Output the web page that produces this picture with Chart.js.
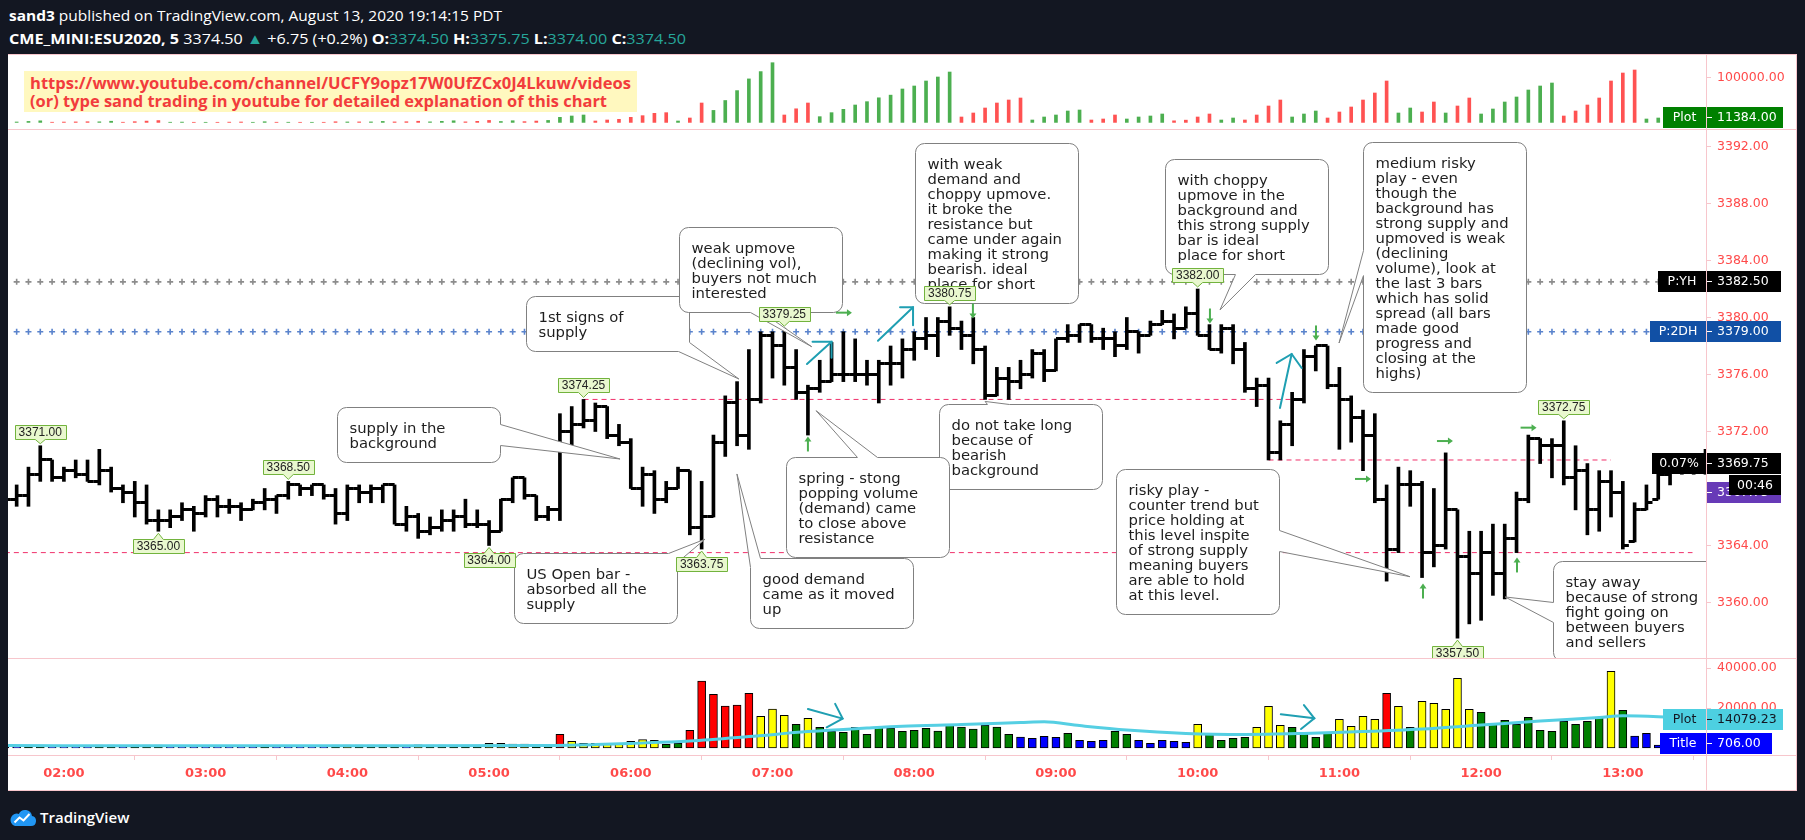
<!DOCTYPE html>
<html><head><meta charset="utf-8">
<script src="https://cdn.jsdelivr.net/npm/chart.js@4.4.1/dist/chart.umd.min.js"></script>
<style>
html,body{margin:0;padding:0}
body{width:1805px;height:840px;background:#131722;position:relative;overflow:hidden}
.a{position:absolute}
.hd{color:#fff;font-family:"Open Sans",sans-serif;white-space:nowrap;transform-origin:0 50%;font-size:15px;line-height:21px}
.t{color:#26a69a}
.ln{position:absolute;background:#f7c6cc;z-index:5}
#yt{left:24px;top:71px;width:613px;height:41px;background:#fff8bf;z-index:4}
.yt{position:absolute;left:6px;color:#f23c3c;font-family:"Open Sans",sans-serif;font-weight:700;white-space:nowrap;transform-origin:0 50%;font-size:16px;line-height:19px}
#ft{left:40px;top:806px;color:#fff;font-family:"Open Sans",sans-serif;font-weight:600;font-size:15px;line-height:22px}
</style></head><body>
<div class="a hd" id="h1" style="left:9px;top:5px"><b>sand3</b> published on TradingView.com, August 13, 2020 19:14:15 PDT</div>
<div class="a hd" id="h2" style="left:9px;top:28px"><b>CME_MINI:ESU2020, 5</b> 3374.50 <span class="t">▲</span> +6.75 (+0.2%) <b>O:</b><span class="t">3374.50</span> <b>H:</b><span class="t">3375.75</span> <b>L:</b><span class="t">3374.00</span> <b>C:</b><span class="t">3374.50</span></div>
<div class="a" style="left:8px;top:54px;width:1789px;height:736px;background:#fff"></div>
<canvas id="cTop" class="a" width="1789" height="74" style="left:8px;top:55px"></canvas>
<canvas id="cMain" class="a" width="1789" height="528" style="left:8px;top:130px"></canvas>
<canvas id="cVol" class="a" width="1789" height="131" style="left:8px;top:659px"></canvas>
<div id="yt" class="a"><div class="yt" id="yt1" style="top:3px">https://www.youtube.com/channel/UCFY9opz17W0UfZCx0J4Lkuw/videos</div><div class="yt" id="yt2" style="top:21px">(or) type sand trading in youtube for detailed explanation of this chart</div></div>
<div class="ln" style="left:8px;top:54px;width:1789px;height:1px"></div>
<div class="ln" style="left:8px;top:129px;width:1789px;height:1px"></div>
<div class="ln" style="left:8px;top:658px;width:1789px;height:1px"></div>
<div class="ln" style="left:8px;top:755px;width:1789px;height:1px"></div>
<div class="ln" style="left:8px;top:790px;width:1789px;height:1px"></div>
<div class="ln" style="left:1706px;top:54px;width:1px;height:737px"></div>
<div class="ln" style="left:1796px;top:54px;width:1px;height:737px"></div>
<svg class="a" style="left:9px;top:808px" width="28" height="19" viewBox="0 0 28 19"><path d="M6 18h16a5 5 0 0 0 1-9.9a7 7 0 0 0-13.2-2.2A5.6 5.6 0 0 0 6 18z" fill="#2196f3"/><path d="M5.5 14.5l5-5 4 3 6-6.5" stroke="#fff" stroke-width="2" fill="none"/></svg>
<div class="a" id="ft">TradingView</div>
<script>
// ---------------- DATA ----------------
const startIdx = -5; // first bar = 01:35 (index 0 = 02:00, 5-minute bars)
const opens = [3367.25,3367.25,3367.5,3369.0,3370.0,3368.75,3369.25,3369.0,3368.5,3369.25,
3368.0,3367.75,3367.0,3365.75,3365.75,3366.0,3366.5,3366.25,3367.25,3366.75,
3366.75,3366.5,3367.0,3367.25,3367.5,3368.25,3368.0,3368.25,3367.5,3366.25,
3368.0,3367.75,3368.0,3368.25,3365.5,3366.0,3365.0,3365.25,3365.75,3366.0,
3365.5,3365.5,3365.0,3367.25,3368.75,3367.5,3366.0,3366.5,3372.0,3372.5,
3372.75,3373.75,3371.75,3371.25,3368.0,3369.0,3367.25,3368.0,3369.25,3365.25,
3366.0,3371.25,3374.0,3371.75,3374.25,3378.75,3378.0,3376.5,3374.75,3375.0,
3375.5,3376.0,3376.0,3376.0,3376.0,3376.75,3376.75,3377.75,3378.5,3378.75,
3379.75,3379.25,3378.75,3377.75,3374.5,3375.75,3375.5,3376.0,3377.5,3376.25,
3378.5,3378.75,3379.5,3378.5,3378.5,3378.0,3379.0,3378.75,3379.5,3379.75,
3379.25,3380.25,3378.75,3377.75,3379.25,3377.75,3375.0,3375.25,3370.5,3372.5,
3374.25,3377.25,3378.0,3375.25,3374.25,3373.0,3371.75,3367.25,3363.75,3368.25,
3368.25,3363.5,3364.0,3366.5,3363.25,3362.0,3363.5,3362.0,3364.5,3367.25,
3371.5,3371.0,3371.0,3368.75,3369.25,3366.5,3368.5,3367.75,3364.25,3366.5,
3367.25,3369.0,3369.25,3369.25,3369.5];
const highs = [3367.75,3368.25,3369.5,3371.0,3370.0,3369.5,3370.0,3370.0,3370.75,3369.5,
3368.25,3368.5,3368.25,3366.5,3366.5,3367.0,3366.75,3367.5,3367.5,3367.25,
3367.0,3367.25,3368.0,3367.5,3368.5,3368.25,3368.25,3368.25,3368.0,3368.25,
3368.25,3368.25,3368.25,3368.25,3366.75,3366.25,3366.0,3366.5,3366.5,3367.25,
3366.5,3365.75,3367.25,3368.75,3368.75,3367.5,3366.75,3373.25,3373.75,3374.25,
3374.0,3373.75,3372.5,3371.5,3369.5,3369.25,3368.5,3369.5,3369.25,3368.5,
3371.75,3374.5,3375.5,3377.75,3379.0,3379.0,3379.25,3377.75,3375.25,3377.0,
3378.25,3379.0,3378.5,3377.0,3377.0,3378.0,3378.5,3379.0,3380.0,3380.0,
3380.75,3379.75,3380.0,3378.0,3376.5,3376.5,3377.0,3377.75,3377.75,3378.5,
3379.5,3379.5,3379.5,3379.25,3379.0,3380.0,3379.0,3379.75,3380.5,3380.25,
3380.75,3382.0,3379.5,3379.5,3379.5,3378.25,3375.75,3375.75,3372.75,3374.75,
3377.75,3378.0,3378.0,3376.5,3374.5,3373.5,3373.25,3368.25,3369.5,3369.25,
3368.5,3368.0,3370.5,3366.5,3365.0,3365.0,3365.5,3365.5,3367.75,3371.75,
3371.5,3371.5,3372.75,3371.0,3369.75,3369.25,3369.25,3368.5,3367.0,3368.25,
3369.0,3369.5,3369.5,3369.5,3370.75];
const lows = [3366.75,3366.75,3366.75,3368.5,3368.5,3368.5,3368.75,3368.5,3368.25,3367.75,
3367.0,3366.0,3365.5,3365.0,3365.25,3365.75,3365.0,3366.0,3366.0,3366.25,
3365.75,3366.5,3366.5,3366.25,3367.25,3367.5,3367.5,3367.25,3365.5,3365.75,
3367.0,3367.0,3367.0,3365.5,3365.0,3364.5,3364.75,3365.0,3365.0,3365.25,
3365.25,3364.0,3365.0,3367.0,3367.25,3365.75,3365.75,3365.75,3371.0,3372.25,
3372.0,3371.5,3371.0,3368.0,3366.75,3366.25,3367.0,3368.0,3364.75,3363.75,
3366.0,3370.25,3371.0,3370.75,3374.0,3375.75,3375.25,3374.25,3371.75,3374.75,
3375.5,3375.5,3375.5,3375.25,3374.0,3375.25,3375.75,3377.0,3377.75,3377.25,
3378.75,3377.75,3376.75,3374.25,3374.5,3374.25,3375.0,3375.75,3375.5,3376.25,
3378.25,3378.25,3378.25,3377.75,3377.25,3377.75,3377.5,3378.75,3379.5,3378.5,
3379.25,3378.75,3377.75,3377.5,3376.75,3374.75,3373.75,3370.0,3370.0,3371.0,
3374.0,3376.25,3375.0,3370.75,3371.25,3369.25,3367.0,3361.5,3363.5,3366.75,
3361.75,3362.5,3363.75,3357.5,3358.5,3358.75,3360.5,3360.25,3363.5,3367.0,
3369.75,3368.75,3368.25,3366.5,3364.75,3365.0,3366.0,3363.75,3364.25,3366.5,
3367.25,3368.25,3369.0,3369.0,3369.0];
const closes = [3367.25,3367.5,3369.0,3370.0,3368.75,3369.25,3369.0,3368.5,3369.25,3368.0,
3367.75,3367.0,3365.75,3365.75,3366.0,3366.5,3366.25,3367.25,3366.75,3366.75,
3366.5,3367.0,3367.25,3367.5,3368.25,3368.0,3368.25,3367.5,3366.25,3368.0,
3367.75,3368.0,3368.25,3365.5,3366.0,3365.0,3365.25,3365.75,3366.0,3365.5,
3365.5,3365.0,3367.25,3368.75,3367.5,3366.0,3366.5,3372.0,3372.5,3372.75,
3373.75,3371.75,3371.25,3368.0,3369.0,3367.25,3368.0,3369.25,3365.25,3366.0,
3371.25,3374.0,3371.75,3374.25,3378.75,3378.0,3376.5,3374.75,3375.0,3375.5,
3376.0,3376.0,3376.0,3376.0,3376.75,3376.75,3377.75,3378.5,3378.75,3379.75,
3379.25,3378.75,3377.75,3374.5,3375.75,3375.5,3376.0,3377.5,3376.25,3378.5,
3378.75,3379.5,3378.5,3378.5,3378.0,3379.0,3378.75,3379.5,3379.75,3379.25,
3380.25,3378.75,3377.75,3379.25,3377.75,3375.0,3375.25,3370.5,3372.5,3374.25,
3377.25,3378.0,3375.25,3374.25,3373.0,3371.75,3367.25,3363.75,3368.25,3368.25,
3363.5,3364.0,3366.5,3363.25,3362.0,3363.5,3362.0,3364.5,3367.25,3371.5,
3371.0,3371.0,3368.75,3369.25,3366.5,3368.5,3367.75,3364.0,3366.5,3367.0,
3369.0,3369.25,3369.25,3369.5,3369.75];
const volumes = [900,900,1500,1500,900,900,900,900,1500,1500,
900,1500,1500,1500,900,900,900,900,900,900,
900,900,1500,900,900,900,900,900,1500,1500,
1500,1500,1500,1500,900,1600,1500,1500,1500,1500,
1500,2300,2300,1900,1900,1500,1500,6833,3333,2333,
2333,1833,2333,3333,4167,3833,1833,2333,8833,33500,
26833,21000,21500,27333,15833,19500,16333,11833,14833,10333,
8333,7833,10333,6833,10333,10000,8333,8833,9833,8500,
11333,10500,9500,11333,10500,6833,5500,4833,5833,5333,
7333,3833,3333,3833,8333,6833,3833,2333,3833,3333,
2833,11833,6833,3833,4833,5333,10333,20833,11333,10333,
7833,5333,7833,14333,10833,15833,14333,27333,20833,10333,
23333,22333,19333,34833,19333,17833,12333,13833,11833,15333,
8833,8333,13333,11833,13333,15333,38333,18833,6000,7333,
1500,1200,1000,900,706];
const volColors = ['b','b','g','g','b','b','b','b','g','g',
'b','g','g','g','b','b','b','b','b','b',
'b','b','g','b','b','b','b','b','g','y',
'g','g','g','g','b','y','g','g','g','g',
'g','y','y','y','y','g','g','r','y','y',
'y','y','y','y','y','y','g','g','r','r',
'r','r','r','r','y','y','y','g','y','g',
'g','g','g','g','g','g','g','g','g','g',
'g','g','g','g','g','g','b','b','b','b',
'g','b','b','b','g','g','b','b','b','b',
'b','y','g','g','g','g','y','y','y','g',
'g','g','g','y','y','y','y','r','y','g',
'y','y','y','y','y','g','g','g','g','g',
'g','g','g','g','g','g','y','g','b','b',
'b','b','b','b','b'];
const weisWave = [600,900,2200,3500,400,800,1100,1500,1300,2600,
400,1600,2900,4100,400,700,300,300,300,600,
900,300,1500,400,400,300,300,300,1400,1000,
1100,1100,2200,1100,1500,2600,1200,2400,3600,1200,
2400,4400,2000,3700,1700,3000,4400,11280,14250,16480,
3100,5345,6800,11280,14990,20190,21680,3118,9800,43200,
26700,48770,70800,96860,113130,132940,16480,30290,43200,12770,
21680,29100,38750,46170,54780,60720,74380,81060,92200,101100,
112200,12030,20930,32070,43200,49880,54340,5345,12030,16480,
25390,27610,5345,7570,16480,7570,12030,14250,18710,3500,
5000,12030,18710,5345,9800,5345,16480,36520,49880,12030,
18710,25390,9800,23160,34300,49880,65470,92200,20930,32070,
23160,45430,20930,36520,54340,18710,29840,45430,56570,72150,
81060,87740,14250,25390,38750,54340,92200,110000,116700,7570,
9800,10300,10700,11000,11384];
const weisColors = ['g','g','g','g','r','r','r','r','g','g',
'r','r','r','r','g','g','r','g','r','r',
'r','g','g','r','g','r','g','r','r','g',
'r','g','g','r','r','r','g','g','g','r',
'r','r','g','g','r','r','g','g','g','g',
'r','r','r','r','r','r','r','g','r','r',
'g','g','g','g','g','g','r','r','r','g',
'g','g','g','g','g','g','g','g','g','g',
'g','r','r','r','r','r','r','g','g','g',
'g','g','r','r','r','g','g','g','g','r',
'r','r','r','g','g','r','r','r','r','g',
'g','g','r','r','r','r','r','r','g','g',
'r','r','g','r','r','g','g','g','g','g',
'g','g','r','r','r','r','r','r','r','g',
'g','g','g','g','g'];
const maIdx  = [-5,10,25,41,45,48,53,58,63,66,68,71,76,81,83,86,90,95,100,105,110,115,120,125,130,132,135,139];
const maVals = [1200,1150,1150,1250,1700,2300,3500,5700,8200,9300,10000,10900,11700,12700,13100,11200,9000,7300,6800,7300,8200,9500,11500,13500,15200,16100,15600,14079.23];
const priceTicks = [3360,3364,3368,3372,3376,3380,3384,3388,3392];
const volTicks = [20000,40000];
const weisTicks = [100000];
const timeTickIdx = [0,12,24,36,48,60,72,84,96,108,120,132];
const timeLabels = ['02:00','03:00','04:00','05:00','06:00','07:00','08:00','09:00','10:00','11:00','12:00','13:00'];
const levelYH = 3382.5, level2DH = 3379.0;
const dashLevels = [3374.25, 3370.0, 3363.5];
const dashFromIdx = [44, 102, -5];
const dashToIdx = [104.5, 131, 137.9];
const pivotIdx  = [-2, 8, 19, 36, 44, 54, 61, 75, 96, 118, 127];
const pivotType = ['H','L','H','L','H','L','H','H','H','L','H'];
const purpleVal = 3367.75, countdown = '00:46', pctChange = '0.07%';
const signalDir   = ['R','U','D','D','D','R','U','R','U','R'];
const signalIdx   = [66.05,63.0,76.97,97.04,106.02,110.0,115.08,116.94,123.04,124.02];
const signalPrice = [3380.34,3371.09,3380.49,3380.14,3378.95,3368.67,3360.77,3371.33,3362.60,3372.27];
const callouts = [
 {i:23.12,p:3373.72,lines:['supply in the','background'],tail:[[163,17],[163,38]],tip:[47.09,3370.07]},
 {i:39.12,p:3381.51,lines:['1st signs of','supply'],tail:[[152,55],[163,46]],tip:[57.16,3375.68]},
 {i:52.08,p:3386.37,lines:['weak upmove','(declining vol),','buyers not much','interested'],tail:[[71,85],[83,85]],tip:[63.32,3377.95]},
 {i:72.07,p:3392.27,lines:['with weak','demand and','choppy upmove.','it broke the','resistance but','came under again','making it strong','bearish. ideal','place for short'],tail:null},
 {i:93.24,p:3391.12,lines:['with choppy','upmove in the','background and','this strong supply','bar is ideal','place for short'],tail:[[70,115],[90,115]],tip:[97.89,3380.53]},
 {i:110.0,p:3392.34,lines:['medium risky','play - even','though the','background has','strong supply and','upmoved is weak','(declining','volume), look at','the last 3 bars','which has solid','spread (all bars','made good','progress and','closing at the','highs)'],tail:[[0,108],[0,133]],tip:[107.97,3378.21]},
 {i:74.10,p:3373.91,lines:['do not take long','because of','bearish','background'],tail:[[48,0],[70,0]],tip:[78.0,3374.11]},
 {i:61.14,p:3370.19,lines:['spring - stong','popping volume','(demand) came','to close above','resistance'],tail:[[71,0],[91,0]],tip:[63.69,3373.46]},
 {i:58.09,p:3363.10,lines:['good demand','came as it moved','up'],tail:[[0,9],[10,0]],tip:[56.99,3369.02]},
 {i:38.11,p:3363.45,lines:['US Open bar -','absorbed all the','supply'],tail:[[154,0],[163,9]],tip:[54.28,3364.44]},
 {i:89.09,p:3369.35,lines:['risky play -','counter trend but','price holding at','this level inspite','of strong supply','meaning buyers','are able to hold','at this level.'],tail:[[163,61],[163,82]],tip:[113.98,3361.81]},
 {i:126.09,p:3362.91,lines:['stay away','because of strong','fight going on','between buyers','and sellers'],tail:[[0,41],[0,61]],tip:[122.03,3360.39]}
];
const tealMain = [
 {from:[62.92,3376.74],to:[65.0,3378.30],head:[[-19,0],[0,16]]},
 {from:[68.93,3378.37],to:[71.9,3380.72],head:[[-13,0],[0,18]]},
 {from:[102.97,3373.65],to:[103.96,3377.44],head:[[-15,9],[10,14]]}
];
const tealVol = [
 {from:[63.0,19500],to:[65.94,14700],head:[[-7.5,-14.7],[-16,8.7]]},
 {from:[103.04,16833],to:[105.88,14833],head:[[-10.4,-13.3],[-13.3,10.7]]}
];

// ---------------- LAYOUT / STYLE ----------------
const X_MIN = -4.733, X_MAX = 139.043;
const PINK = '#f7c6cc', AXIS_RED = '#ff4a4a';
const VC = {b:'#0000ff', g:'#008000', y:'#ffff00', r:'#ff0000'};
const WC = {g:'#4caf50', r:'#ff5252'};
Chart.defaults.font.family = 'DejaVu Sans';
const idxOf = k => k + startIdx;

function noPad(s){ s.paddingTop = 0; s.paddingBottom = 0; s.paddingLeft = 0; s.paddingRight = 0; }
function xAxis(display){
  return {type:'linear', min:X_MIN, max:X_MAX, offset:false, display:display, grid:{display:false}};
}
function yAxis(min, max, ticks){
  return {type:'linear', position:'right', min:min, max:max,
    afterFit(s){ s.width = 91; noPad(s); },
    afterBuildTicks(s){ s.ticks = ticks.map(v => ({value:v})); },
    ticks:{color:AXIS_RED, font:{family:'DejaVu Sans', size:12.5}, padding:6, callback:v => Number(v).toFixed(2)},
    grid:{drawOnChartArea:false, color:PINK, tickLength:5},
    border:{color:PINK}};
}
const baseOpts = {responsive:false, animation:false, devicePixelRatio:1, layout:{padding:0, autoPadding:false},
  plugins:{legend:{display:false}, tooltip:{enabled:false}}};

function rr(ctx,x,y,w,h,r){
  ctx.beginPath();
  ctx.moveTo(x+r,y); ctx.lineTo(x+w-r,y); ctx.arcTo(x+w,y,x+w,y+r,r);
  ctx.lineTo(x+w,y+h-r); ctx.arcTo(x+w,y+h,x+w-r,y+h,r);
  ctx.lineTo(x+r,y+h); ctx.arcTo(x,y+h,x,y+h-r,r);
  ctx.lineTo(x,y+r); ctx.arcTo(x,y,x+r,y,r); ctx.closePath();
}
function axLabel(ctx, axisX, y, name, val, bg, fg, nameW, valW){
  const h = 21, top = Math.round(y - h/2);
  ctx.fillStyle = bg;
  if (name) ctx.fillRect(axisX - nameW, top, nameW, h);
  ctx.fillRect(axisX, top, valW, h);
  ctx.fillStyle = fg; ctx.font = '12.5px "DejaVu Sans"'; ctx.textBaseline = 'middle';
  if (name){ ctx.textAlign = 'center'; ctx.fillText(name, axisX - nameW/2, top + h/2 + 0.5); }
  ctx.textAlign = 'left'; ctx.fillText(val, axisX + 11, top + h/2 + 0.5);
  ctx.fillRect(axisX + 1, top + 10, 5, 1);
}
function drawTeal(ctx, xs, ys, a){
  const x0 = xs.getPixelForValue(a.from[0]), y0 = ys.getPixelForValue(a.from[1]);
  const x1 = xs.getPixelForValue(a.to[0]), y1 = ys.getPixelForValue(a.to[1]);
  ctx.strokeStyle = '#1f9fb2'; ctx.lineWidth = 2; ctx.lineCap = 'round';
  ctx.beginPath(); ctx.moveTo(x0,y0); ctx.lineTo(x1,y1); ctx.stroke();
  ctx.beginPath(); ctx.moveTo(x1+a.head[0][0], y1+a.head[0][1]); ctx.lineTo(x1,y1); ctx.lineTo(x1+a.head[1][0], y1+a.head[1][1]); ctx.stroke();
  ctx.lineCap = 'butt';
}
function drawCallout(ctx, xs, ys, c){
  const L = Math.round(xs.getPixelForValue(c.i)) + 0.5;
  const T = Math.round(ys.getPixelForValue(c.p)) + 0.5;
  const W = 163, H = 25 + 15*c.lines.length;
  ctx.lineWidth = 1; ctx.strokeStyle = '#808080'; ctx.fillStyle = '#fff';
  rr(ctx, L, T, W, H, 9); ctx.fill(); ctx.stroke();
  if (c.tail){
    const b1 = [L + c.tail[0][0], T + c.tail[0][1]], b2 = [L + c.tail[1][0], T + c.tail[1][1]];
    const tp = [xs.getPixelForValue(c.tip[0]), ys.getPixelForValue(c.tip[1])];
    ctx.beginPath(); ctx.moveTo(b1[0],b1[1]); ctx.lineTo(tp[0],tp[1]); ctx.lineTo(b2[0],b2[1]); ctx.closePath(); ctx.fill();
    ctx.strokeStyle = '#fff'; ctx.lineWidth = 2.5;
    ctx.beginPath(); ctx.moveTo(b1[0],b1[1]); ctx.lineTo(b2[0],b2[1]); ctx.stroke();
    ctx.strokeStyle = '#808080'; ctx.lineWidth = 1;
    ctx.beginPath(); ctx.moveTo(b1[0],b1[1]); ctx.lineTo(tp[0],tp[1]); ctx.lineTo(b2[0],b2[1]); ctx.stroke();
  }
  ctx.fillStyle = '#1e1e1e'; ctx.font = '14.8px "DejaVu Sans"'; ctx.textAlign = 'left'; ctx.textBaseline = 'alphabetic';
  c.lines.forEach((s,k) => ctx.fillText(s, L + 12, T + 25 + 15*k));
}
function pivotLabel(ctx, x, yBar, text, isHigh){
  ctx.font = '12px "Liberation Sans"';
  const w = Math.round(ctx.measureText(text).width + 8), h = 14;
  const bx = Math.round(x - w/2) + 0.5;
  let by;
  ctx.beginPath();
  if (isHigh){
    by = Math.round(yBar - 7 - h) + 0.5; const bb = by + h;
    ctx.moveTo(bx,by); ctx.lineTo(bx+w,by); ctx.lineTo(bx+w,bb); ctx.lineTo(x+5,bb); ctx.lineTo(x,yBar-2); ctx.lineTo(x-5,bb); ctx.lineTo(bx,bb); ctx.closePath();
  } else {
    by = Math.round(yBar + 8) + 0.5; const bb = by + h;
    ctx.moveTo(bx,by); ctx.lineTo(x-5,by); ctx.lineTo(x,yBar+2); ctx.lineTo(x+5,by); ctx.lineTo(bx+w,by); ctx.lineTo(bx+w,bb); ctx.lineTo(bx,bb); ctx.closePath();
  }
  ctx.fillStyle = '#e9f8cf'; ctx.fill(); ctx.strokeStyle = '#72b33d'; ctx.lineWidth = 1; ctx.stroke();
  ctx.fillStyle = '#222'; ctx.textAlign = 'center'; ctx.textBaseline = 'middle';
  ctx.fillText(text, x, by + h/2 + 0.5);
}
function signalArrow(ctx, x, y, dir){
  ctx.strokeStyle = '#4caf50'; ctx.fillStyle = '#4caf50'; ctx.lineWidth = 2;
  ctx.beginPath();
  if (dir === 'R'){ ctx.moveTo(x-8,y); ctx.lineTo(x+4,y); } else if (dir === 'U'){ ctx.moveTo(x,y+7); ctx.lineTo(x,y-4); } else { ctx.moveTo(x,y-7); ctx.lineTo(x,y+4); }
  ctx.stroke();
  ctx.beginPath();
  if (dir === 'R'){ ctx.moveTo(x+8,y); ctx.lineTo(x+3,y-3.5); ctx.lineTo(x+3,y+3.5); }
  else if (dir === 'U'){ ctx.moveTo(x,y-8); ctx.lineTo(x-3.5,y-3); ctx.lineTo(x+3.5,y-3); }
  else { ctx.moveTo(x,y+8); ctx.lineTo(x-3.5,y+3); ctx.lineTo(x+3.5,y+3); }
  ctx.closePath(); ctx.fill();
}
function tickImg(left){
  const c = document.createElement('canvas'); c.width = 14; c.height = 3;
  const g = c.getContext('2d'); g.fillStyle = '#000';
  if (left) g.fillRect(1,0,6,3); else g.fillRect(7,0,6,3);
  return c;
}

// ---------------- MAIN PRICE PANE ----------------
const mainDecor = {
  id:'mainDecor',
  afterDatasetsDraw(chart){
    const {ctx, chartArea:ca, scales:{x:xs, y:ys}} = chart;
    ctx.save();
    ctx.beginPath(); ctx.rect(ca.left, ca.top, ca.right-ca.left, ca.bottom-ca.top); ctx.clip();
    callouts.forEach(c => drawCallout(ctx, xs, ys, c));
    pivotIdx.forEach((bi, k) => {
      const j = bi - startIdx; const isH = pivotType[k] === 'H';
      const v = isH ? highs[j] : lows[j];
      pivotLabel(ctx, xs.getPixelForValue(bi), ys.getPixelForValue(v), v.toFixed(2), isH);
    });
    signalDir.forEach((d,k) => signalArrow(ctx, xs.getPixelForValue(signalIdx[k]), ys.getPixelForValue(signalPrice[k]), d));
    tealMain.forEach(a => drawTeal(ctx, xs, ys, a));
    ctx.restore();
  },
  afterDraw(chart){
    const {ctx, chartArea:ca, scales:{y:ys}} = chart;
    const ax = ca.right;
    ctx.save();
    axLabel(ctx, ax, ys.getPixelForValue(levelYH), 'P:YH', levelYH.toFixed(2), '#000', '#fff', 48, 75);
    axLabel(ctx, ax, ys.getPixelForValue(level2DH), 'P:2DH', level2DH.toFixed(2), '#1150a5', '#fff', 56, 75);
    axLabel(ctx, ax, ys.getPixelForValue(purpleVal), null, purpleVal.toFixed(2), '#673ab7', '#fff', 0, 75);
    const lastY = ys.getPixelForValue(closes[closes.length-1]);
    axLabel(ctx, ax, lastY, pctChange, closes[closes.length-1].toFixed(2), '#000', '#fff', 54, 75);
    ctx.fillStyle = '#000'; ctx.fillRect(ax + 23, Math.round(lastY + 11), 52, 20);
    ctx.fillStyle = '#fff'; ctx.font = '12.5px "DejaVu Sans"'; ctx.textAlign = 'center'; ctx.textBaseline = 'middle';
    ctx.fillText(countdown, ax + 49, Math.round(lastY + 11) + 10.5);
    ctx.restore();
  }
};
const crossPts = lvl => { const a = []; for (let k = 0; k < opens.length; k++) a.push({x:idxOf(k), y:lvl}); return a; };
const mainDatasets = [
  {type:'bar', data: highs.map((h,k) => ({x:idxOf(k), y:[lows[k], h]})), backgroundColor:'#000', barThickness:3, grouped:false, order:1},
  {type:'scatter', data: opens.map((o,k) => ({x:idxOf(k), y:o})), pointStyle: tickImg(true), pointRadius:7, order:0},
  {type:'scatter', data: closes.map((c,k) => ({x:idxOf(k), y:c})), pointStyle: tickImg(false), pointRadius:7, order:0},
  {type:'scatter', data: crossPts(levelYH), pointStyle:'cross', pointRadius:3, pointBorderColor:'#8c8c8c', pointBackgroundColor:'#8c8c8c', pointBorderWidth:1.6, order:6},
  {type:'scatter', data: crossPts(level2DH), pointStyle:'cross', pointRadius:3, pointBorderColor:'#5a83cc', pointBackgroundColor:'#5a83cc', pointBorderWidth:1.6, order:6}
];
dashLevels.forEach((lv,k) => mainDatasets.push({type:'line', data:[{x:dashFromIdx[k], y:lv},{x:dashToIdx[k], y:lv}], borderColor:'#f0306a', borderWidth:1, borderDash:[5,4], pointRadius:0, order:5}));
new Chart(document.getElementById('cMain'), {
  type:'bar',
  data:{datasets: mainDatasets},
  options: Object.assign({}, baseOpts, {scales:{x: xAxis(false), y: yAxis(3356.105, 3393.158, priceTicks)}}),
  plugins:[mainDecor]
});

// ---------------- TOP (WEIS WAVE) PANE ----------------
const topDecor = {
  id:'topDecor',
  afterDraw(chart){
    const {ctx, chartArea:ca, scales:{y:ys}} = chart;
    const v = weisWave[weisWave.length-1];
    ctx.save();
    axLabel(ctx, ca.right, ys.getPixelForValue(v), 'Plot', v.toFixed(2), '#008000', '#fff', 43, 77);
    ctx.restore();
  }
};
new Chart(document.getElementById('cTop'), {
  type:'bar',
  data:{datasets:[{type:'bar', data: weisWave.map((v,k) => ({x:idxOf(k), y:v})), backgroundColor: weisColors.map(c => WC[c]), barThickness:3, grouped:false}]},
  options: Object.assign({}, baseOpts, {scales:{x: xAxis(false), y: yAxis(-14698, 150111, weisTicks)}}),
  plugins:[topDecor]
});

// ---------------- VOLUME PANE ----------------
const volDecor = {
  id:'volDecor',
  afterDatasetsDraw(chart){
    const {ctx, chartArea:ca, scales:{x:xs, y:ys}} = chart;
    ctx.save(); ctx.beginPath(); ctx.rect(ca.left, ca.top, ca.right-ca.left, ca.bottom-ca.top); ctx.clip();
    tealVol.forEach(a => drawTeal(ctx, xs, ys, a));
    ctx.restore();
  },
  afterDraw(chart){
    const {ctx, chartArea:ca, scales:{y:ys}} = chart;
    const ma = maVals[maVals.length-1], vl = volumes[volumes.length-1];
    ctx.save();
    axLabel(ctx, ca.right, ys.getPixelForValue(ma), 'Plot', ma.toFixed(2), '#4dd0e1', '#131722', 43, 77);
    axLabel(ctx, ca.right, Math.min(ys.getPixelForValue(vl), ca.bottom - 11.5), 'Title', vl.toFixed(2), '#0000ff', '#fff', 46, 66);
    ctx.restore();
  }
};
const volX = xAxis(true);
Object.assign(volX, {position:'bottom',
  afterFit(s){ s.height = 35; noPad(s); },
  afterBuildTicks(s){ s.ticks = timeTickIdx.map(v => ({value:v})); },
  ticks:{callback:v => timeLabels[timeTickIdx.indexOf(v)], color:AXIS_RED, font:{family:'DejaVu Sans', size:13, weight:'bold'}, padding:6, maxRotation:0, autoSkip:false},
  grid:{drawOnChartArea:false, color:PINK, tickLength:5},
  border:{color:PINK}});
new Chart(document.getElementById('cVol'), {
  type:'bar',
  data:{datasets:[
    {type:'line', data: maIdx.map((x,k) => ({x:x, y:maVals[k]})), borderColor:'#55cfe3', borderWidth:3, pointRadius:0, tension:0.4, cubicInterpolationMode:'monotone', order:0},
    {type:'bar', data: volumes.map((v,k) => ({x:idxOf(k), y:v})), backgroundColor: volColors.map(c => VC[c]), borderColor:'#000', borderWidth:1, borderSkipped:false, barThickness:8, grouped:false, order:1}
  ]},
  options: Object.assign({}, baseOpts, {scales:{x: volX, y: yAxis(-3500, 44500, volTicks)}}),
  plugins:[volDecor]
});

// ---------------- text width fitting ----------------
function fit(id, w){ const el = document.getElementById(id); const cw = el.getBoundingClientRect().width; el.style.transform = 'scaleX(' + (w/cw) + ')'; }
fit('h1', 493); fit('h2', 677); fit('yt1', 601); fit('yt2', 577);
</script>
</body></html>
